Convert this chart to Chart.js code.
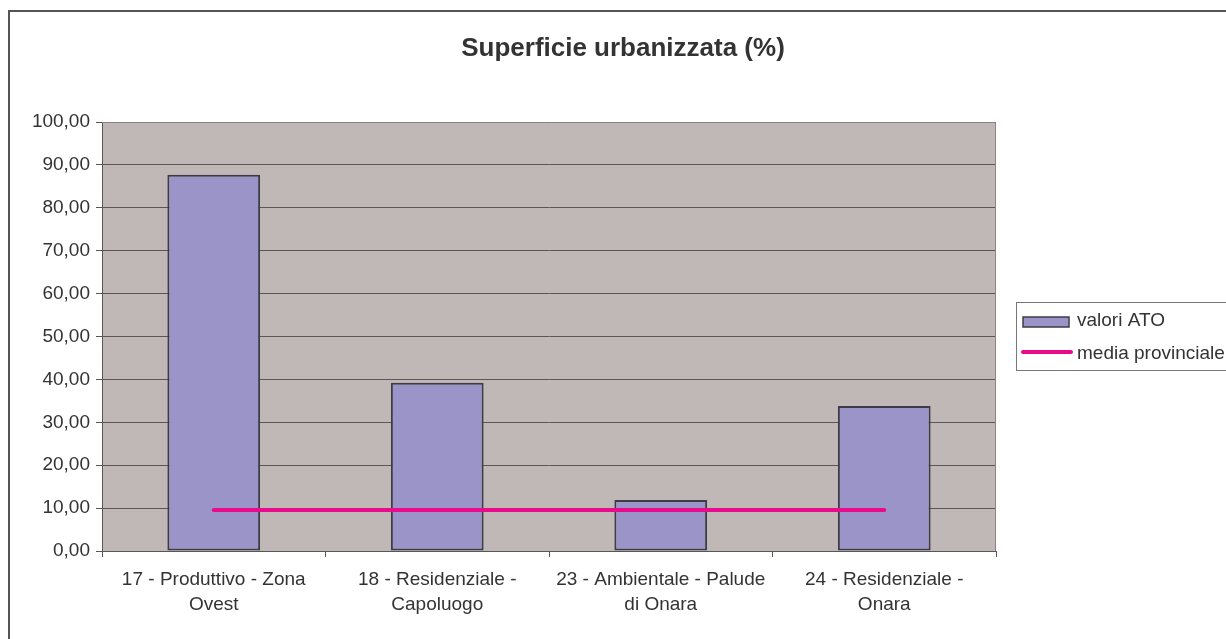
<!DOCTYPE html>
<html>
<head>
<meta charset="utf-8">
<title>Superficie urbanizzata (%)</title>
<script src="https://cdn.jsdelivr.net/npm/chart.js@4/dist/chart.umd.min.js"></script>
<style>
    html, body { margin: 0; padding: 0; background: #ffffff; }
    #wrap { width: 1226px; height: 639px; position: relative; }
</style>
</head>
<body>
<div id="wrap"><canvas id="chart"></canvas></div>
<script>
// Data
const chartTitle = 'Superficie urbanizzata (%)';
const categories = [
    ['17 - Produttivo - Zona', 'Ovest'],
    ['18 - Residenziale -', 'Capoluogo'],
    ['23 - Ambientale - Palude', 'di Onara'],
    ['24 - Residenziale -', 'Onara']
];
const valoriATO = [87.7, 39.2, 11.9, 33.8];
const mediaProvinciale = [9.55, 9.55, 9.55, 9.55];
const yTicks = { min: 0, max: 100, step: 10 };

const COLORS = {
    text: '#333333',
    bar: '#9b94c8',
    barBorder: '#3d3c46',
    line: '#ea0a8c',
    plotBg: '#c0b8b6',
    grid: '#5a5656',
    frame: '#555555'
};

const FONT = "'Liberation Sans', Arial, sans-serif";
Chart.defaults.font.family = FONT;
Chart.defaults.color = COLORS.text;

// Plot background, outer frame, title and the legend box
const decorPlugin = {
    id: 'decor',
    beforeDraw(chart) {
        const { ctx, chartArea: a } = chart;
        ctx.save();
        ctx.fillStyle = COLORS.plotBg;
        ctx.fillRect(a.left, a.top, a.right - a.left, a.bottom - a.top);
        // outer frame (left and top visible)
        ctx.strokeStyle = COLORS.frame;
        ctx.lineWidth = 2;
        ctx.beginPath();
        ctx.moveTo(9, 640);
        ctx.lineTo(9, 11);
        ctx.lineTo(1230, 11);
        ctx.stroke();

        // title
        ctx.fillStyle = COLORS.text;
        ctx.font = "bold 26px " + FONT;
        ctx.textAlign = 'center';
        ctx.textBaseline = 'middle';
        ctx.fillText(chartTitle, 623, 49);
        ctx.restore();
    },
    afterDraw(chart) {
        const { ctx, chartArea: a } = chart;
        const bars = chart.data.datasets.find(d => d.type === 'bar');
        const line = chart.data.datasets.find(d => d.type === 'line');
        ctx.save();
        // plot border top/right
        ctx.strokeStyle = '#8c8482';
        ctx.lineWidth = 1;
        ctx.beginPath();
        ctx.moveTo(a.left, a.top + 0.5);
        ctx.lineTo(a.right - 0.5, a.top + 0.5);
        ctx.lineTo(a.right - 0.5, a.bottom);
        ctx.stroke();

        // legend
        ctx.strokeStyle = '#777777';
        ctx.fillStyle = '#ffffff';
        ctx.fillRect(1016, 302, 220, 68);
        ctx.strokeRect(1016.5, 302.5, 220, 68);

        ctx.fillStyle = bars.backgroundColor;
        ctx.fillRect(1023, 317, 46, 10);
        ctx.strokeStyle = COLORS.barBorder;
        ctx.lineWidth = 1.5;
        ctx.strokeRect(1023, 317, 46, 10);

        ctx.strokeStyle = line.borderColor;
        ctx.lineWidth = 4;
        ctx.lineCap = 'round';
        ctx.beginPath();
        ctx.moveTo(1023, 352);
        ctx.lineTo(1071, 352);
        ctx.stroke();

        ctx.fillStyle = COLORS.text;
        ctx.font = "19px " + FONT;
        ctx.textBaseline = 'middle';
        ctx.fillText(bars.label, 1077, 321);
        ctx.fillText(line.label, 1077, 354);
        ctx.restore();
    }
};

new Chart(document.getElementById('chart'), {
    data: {
        labels: categories,
        datasets: [{
            type: 'line',
            label: 'media provinciale',
            data: mediaProvinciale,
            borderColor: COLORS.line,
            borderWidth: 4,
            borderCapStyle: 'round',
            pointRadius: 0,
            order: 0
        }, {
            type: 'bar',
            label: 'valori ATO',
            data: valoriATO,
            backgroundColor: COLORS.bar,
            borderColor: COLORS.barBorder,
            borderWidth: 2,
            borderSkipped: false,
            barPercentage: 0.415,
            categoryPercentage: 1,
            order: 1
        }]
    },
    options: {
        responsive: true,
        maintainAspectRatio: false,
        animation: false,
        layout: {
            padding: { top: 122, left: 32, right: 230, bottom: 8 }
        },
        plugins: {
            legend: { display: false },
            tooltip: { enabled: false },
            title: { display: false }
        },
        scales: {
            x: {
                offset: true,
                grid: {
                    offset: true,
                    drawOnChartArea: false,
                    drawTicks: true,
                    tickLength: 6,
                    color: COLORS.grid
                },
                border: { color: COLORS.grid, width: 1 },
                ticks: {
                    color: COLORS.text,
                    font: { size: 19, lineHeight: 1.32 },
                    maxRotation: 0,
                    autoSkip: false,
                    padding: 10
                },
                afterFit(scale) { scale.height = 80; }
            },
            y: {
                min: yTicks.min,
                max: yTicks.max,
                ticks: {
                    stepSize: yTicks.step,
                    color: COLORS.text,
                    font: { size: 19 },
                    padding: 6,
                    callback: (v) => v.toFixed(2).replace('.', ',')
                },
                grid: {
                    color: COLORS.grid,
                    lineWidth: 1,
                    tickLength: 6
                },
                border: { color: COLORS.grid, width: 1 },
                afterFit(scale) { scale.width = 70; }
            }
        }
    },
    plugins: [decorPlugin]
});
</script>
</body>
</html>
